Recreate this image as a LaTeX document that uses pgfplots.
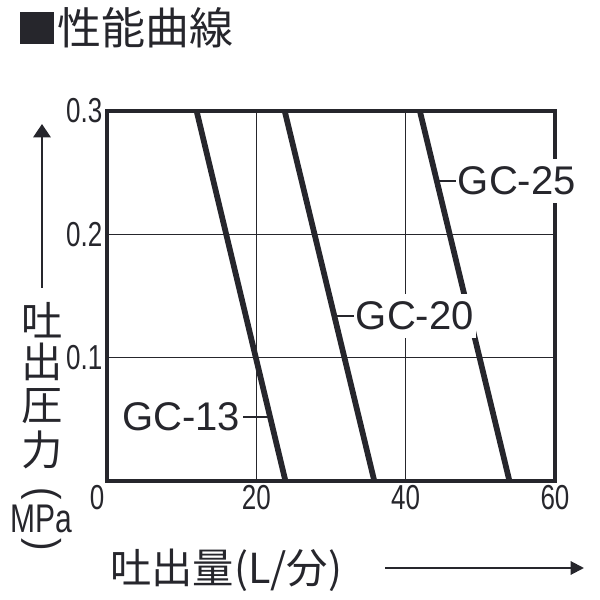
\documentclass[border=0pt]{standalone}
\usepackage{fontspec}
\setmainfont{Liberation Sans}
\newfontfamily\cjk{Noto Sans CJK JP}
\newfontfamily\narrow[FakeStretch=0.75]{Liberation Sans}
\usepackage{graphicx}
\usepackage{pgfplots}
\pgfplotsset{compat=1.18}
\usetikzlibrary{arrows.meta}
\definecolor{ink}{RGB}{38,38,44}

\begin{document}
\begin{tikzpicture}
\begin{axis}[
  at={(0,0)}, anchor=south west,
  scale only axis, width=336pt, height=277.5pt,
  xmin=0, xmax=60, ymin=0, ymax=0.3,
  xtick={20,40,60}, ytick={0.1,0.2,0.3},
  extra x ticks={0},
  extra x tick style={grid=none, xticklabel style={xshift=-7.5pt}},
  scaled y ticks=false,
  yticklabel style={/pgf/number format/fixed, /pgf/number format/precision=1},
  /pgf/number format/assume math mode=true,
  grid=major,
  major grid style={line width=1.1pt, color=ink},
  axis line style={line width=2.3pt, color=ink},
  major tick length=0pt,
  tick label style={font=\narrow\fontsize{26}{26}\selectfont, text=ink},
  curve/.style={ink, line width=4.3pt, line cap=butt},
]
% GC-13
\addplot[curve] coordinates {(12.0,0.3) (23.9,0)};
% GC-20
\addplot[curve] coordinates {(23.8,0.3) (35.8,0)};
% GC-25
\addplot[curve] coordinates {(41.9,0.3) (53.9,0)};
\end{axis}

% annotations in image pixels (origin top-left)
\begin{scope}[x=0.75pt, y=-0.75pt, shift={(-80.25pt,360.75pt)}]
  \useasboundingbox (0,0) rectangle (600,600);
  % title
  \fill[ink] (20,12) rectangle (54,44);
  \node[anchor=west, inner sep=0pt, text=ink, font=\cjk\fontsize{33}{33}\selectfont] at (57,28) {性能曲線};

  % series labels
  \tikzset{gc/.style={fill=white, text=ink, inner xsep=2pt, inner ysep=6pt,
    font=\fontsize{30}{30}\selectfont}}
  \node[gc, anchor=west] at (455,181) {GC-25};
  \node[gc, anchor=west] at (353,316) {GC-20};
  \node[gc, anchor=east] at (243,417) {GC-13};
  \draw[ink, line width=1pt] (437,181) -- (456,181);
  \draw[ink, line width=1pt] (334,316) -- (354,316);
  \draw[ink, line width=1pt] (243,417) -- (270,417);

  % y axis title
  \draw[ink, line width=1.5pt, -{Triangle[length=10pt, width=13pt]}] (42,288) -- (42,124);
  \begin{scope}[every node/.style={text=ink, inner sep=0pt, font=\cjk\fontsize{31}{31}\selectfont}]
    \node at (42,320) {吐};
    \node at (42,362) {出};
    \node at (42,406) {圧};
    \node at (42,450) {力};
  \end{scope}
  \node[text=ink, inner sep=0pt, font=\fontsize{28}{28}\selectfont] at (42,494)
    {\rotatebox{-90}{\scalebox{1}[1.15]{(}}};
  \node[text=ink, inner sep=0pt, font=\narrow\fontsize{30}{30}\selectfont] at (41,519) {MPa};
  \node[text=ink, inner sep=0pt, font=\fontsize{28}{28}\selectfont] at (42,545)
    {\rotatebox{-90}{\scalebox{1}[1.15]{)}}};

  % x axis title
  \node[anchor=west, inner sep=0pt, text=ink, font=\cjk\fontsize{31}{31}\selectfont] at (110,570) {吐出量(L/分)};
  \draw[ink, line width=1.5pt, -{Triangle[length=10pt, width=10pt]}] (385,568) -- (584,568);
\end{scope}
\end{tikzpicture}
\end{document}
